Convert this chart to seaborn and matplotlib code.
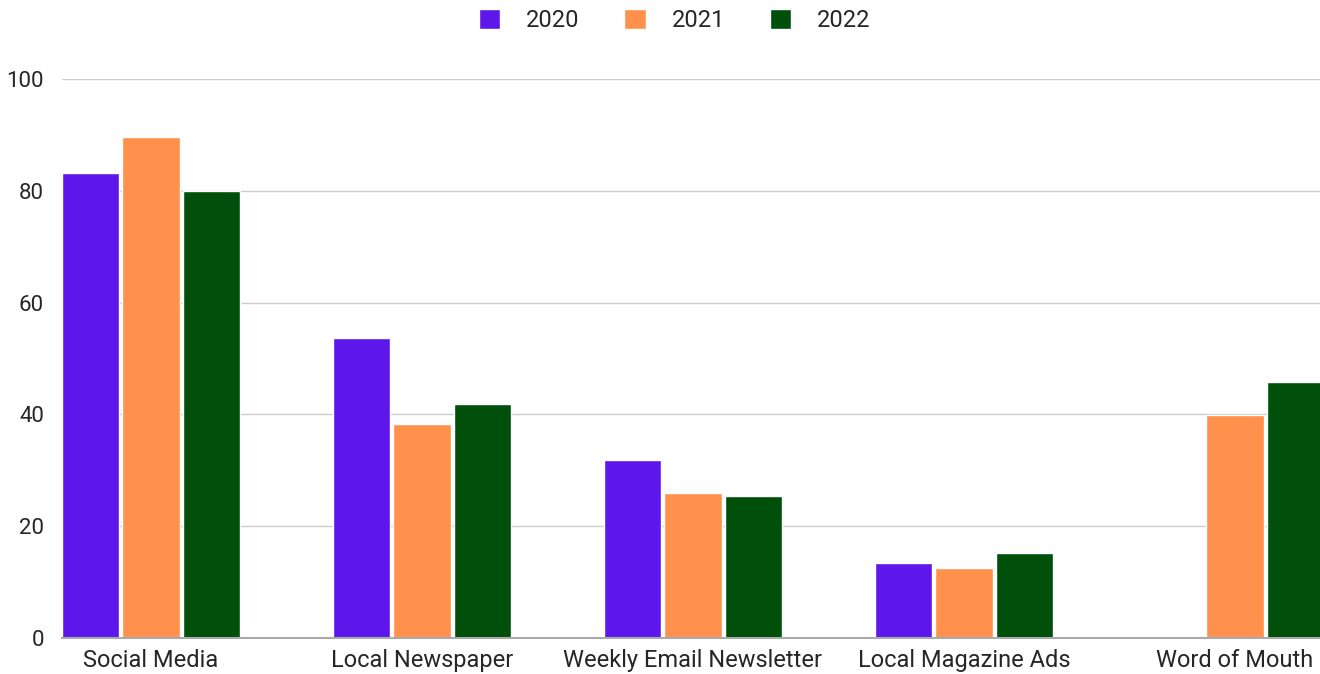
import pandas as pd
import matplotlib.pyplot as plt
import seaborn as sns
import numpy as np

# chart data
channels = ['Social Media', 'Local Newspaper', 'Weekly Email Newsletter',
            'Local Magazine Ads', 'Word of Mouth']
years = ['2020', '2021', '2022']
values_2020 = [83.2, 53.7, 31.8, 13.4, np.nan]
values_2021 = [89.6, 38.3, 25.9, 12.5, 39.9]
values_2022 = [80.0, 41.9, 25.4, 15.2, 45.8]
year_colors = ['#5E17EB', '#FF914D', '#004F0B']

df = pd.DataFrame({'channel': channels,
                   '2020': values_2020,
                   '2021': values_2021,
                   '2022': values_2022})
long_df = df.melt(id_vars='channel', var_name='year', value_name='value').dropna()

sns.set_style('white')
plt.rcParams['font.family'] = ['Roboto', 'DejaVu Sans']

fig = plt.figure(figsize=(13.2, 6.74), dpi=100)
ax = fig.add_axes([62 / 1320, 36 / 674, 1 - 62 / 1320, (638 - 79) / 674])

sns.barplot(data=long_df, x='channel', y='value', hue='year',
            order=channels, hue_order=years, palette=year_colors,
            width=0.67, gap=0.05, saturation=1, ax=ax, zorder=3)

ax.set_ylim(0, 100)
ax.set_xlim(-0.328, -0.328 + (1320 - 62) / 271)
ax.set_yticks([0, 20, 40, 60, 80, 100])
ax.yaxis.grid(True, color='#cccccc', linewidth=1, zorder=0)
ax.set_axisbelow(True)
for side in ['left', 'right', 'top']:
    ax.spines[side].set_visible(False)
ax.spines['bottom'].set_color('#aaaaaa')
ax.spines['bottom'].set_linewidth(1.5)
ax.spines['bottom'].set_zorder(4)
ax.tick_params(axis='y', length=0, pad=13, labelsize=16)
ax.tick_params(axis='x', length=0, pad=8, labelsize=17)
ax.set_xlabel('')
ax.set_ylabel('')

handles, labels = ax.get_legend_handles_labels()
ax.legend(handles, labels, loc='upper center', bbox_to_anchor=(0.487, 1.163),
          ncol=3, frameon=False, fontsize=17, handlelength=0.9,
          handleheight=0.95, columnspacing=1.9, handletextpad=1.1)

fig.savefig('out.png', dpi=100)
